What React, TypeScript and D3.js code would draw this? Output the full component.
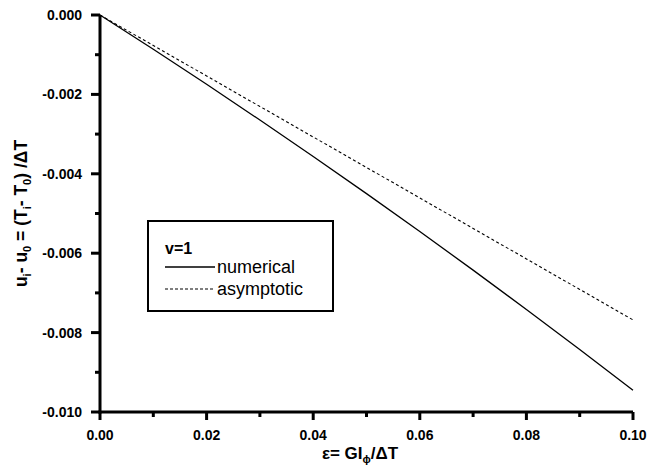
import React from "react";
import * as d3 from "d3";

const epsValues = [0, 0.01, 0.02, 0.03, 0.04, 0.05, 0.06, 0.07, 0.08, 0.09, 0.1];
const numerical = [0, -0.000864, -0.001746, -0.002646, -0.003564, -0.0045, -0.005454, -0.006426, -0.007416, -0.008424, -0.00945];
const asymptotic = [0, -0.000768, -0.001536, -0.002304, -0.003072, -0.00384, -0.004608, -0.005376, -0.006144, -0.006912, -0.00768];
const xTicks = [0, 0.02, 0.04, 0.06, 0.08, 0.1];
const xMinor = [0.01, 0.03, 0.05, 0.07, 0.09];
const yTicks = [0, -0.002, -0.004, -0.006, -0.008, -0.01];
const yMinor = [-0.001, -0.003, -0.005, -0.007, -0.009];

export default function App() {
  const W = 647, H = 467;
  const x = d3.scaleLinear().domain([0, 0.1]).range([100, 633]);
  const y = d3.scaleLinear().domain([0, -0.01]).range([15, 412]);
  const line = d3.line<[number, number]>().x(d => x(d[0])).y(d => y(d[1]));
  const numPts = epsValues.map((e, i) => [e, numerical[i]] as [number, number]);
  const asyPts = epsValues.map((e, i) => [e, asymptotic[i]] as [number, number]);
  const font = "'Liberation Sans', Arial, sans-serif";
  return (
    <svg width={W} height={H} style={{ position: "absolute", left: 0, top: 0, background: "#fff" }} fontFamily={font}>
      <rect width={W} height={H} fill="#fff" />
      <path d={line(asyPts) || ""} fill="none" stroke="#000" strokeWidth={1.1} strokeDasharray="3,2.5" />
      <path d={line(numPts) || ""} fill="none" stroke="#000" strokeWidth={1.3} />
      {/* axes */}
      <line x1={x(0)} x2={x(0)} y1={y(0)} y2={y(-0.01) + 1.5} stroke="#000" strokeWidth={3} />
      <line x1={x(0) - 1.5} x2={x(0.1)} y1={y(-0.01)} y2={y(-0.01)} stroke="#000" strokeWidth={3} />
      {yTicks.map(t => (
        <g key={"y" + t}>
          <line x1={x(0) - 9} x2={x(0)} y1={y(t)} y2={y(t)} stroke="#000" strokeWidth={3} />
          <text x={82} y={y(t) + 5} textAnchor="end" fontSize={14} fontWeight="bold">{t === 0 ? "0.000" : t.toFixed(3)}</text>
        </g>
      ))}
      {yMinor.map(t => (
        <line key={"ym" + t} x1={x(0) - 5} x2={x(0)} y1={y(t)} y2={y(t)} stroke="#000" strokeWidth={3} />
      ))}
      {xTicks.map(t => (
        <g key={"x" + t}>
          <line x1={x(t)} x2={x(t)} y1={y(-0.01)} y2={y(-0.01) + 8} stroke="#000" strokeWidth={3} />
          <text x={x(t)} y={y(-0.01) + 28} textAnchor="middle" fontSize={14} fontWeight="bold">{t.toFixed(2)}</text>
        </g>
      ))}
      {xMinor.map(t => (
        <line key={"xm" + t} x1={x(t)} x2={x(t)} y1={y(-0.01)} y2={y(-0.01) + 5} stroke="#000" strokeWidth={3} />
      ))}
      {/* axis labels */}
      <text x={360} y={459} textAnchor="middle" fontSize={17} fontWeight="bold">
        ε= GI<tspan fontSize={11} dy={4}>ϕ</tspan><tspan dy={-4}>/ΔT</tspan>
      </text>
      <text transform={`translate(27,${(y(0) + y(-0.01)) / 2}) rotate(-90)`} textAnchor="middle" fontSize={17.5} fontWeight="bold">
        u<tspan fontSize={11} dy={4}>i</tspan><tspan dy={-4}>- u</tspan><tspan fontSize={11} dy={4}>0</tspan><tspan dy={-4}> = (T</tspan><tspan fontSize={11} dy={4}>i</tspan><tspan dy={-4}>- T</tspan><tspan fontSize={11} dy={4}>0</tspan><tspan dy={-4}>) /ΔT</tspan>
      </text>
      {/* legend */}
      <rect x={148} y={221} width={185} height={90} fill="#fff" stroke="#000" strokeWidth={2} />
      <text x={165} y={254} fontSize={16} fontWeight="bold">v=1</text>
      <line x1={165} x2={215} y1={267} y2={267} stroke="#000" strokeWidth={1.3} />
      <text x={217} y={273} fontSize={18}>numerical</text>
      <line x1={165} x2={215} y1={289} y2={289} stroke="#000" strokeWidth={1.1} strokeDasharray="3,2" />
      <text x={217} y={295} fontSize={18}>asymptotic</text>
    </svg>
  );
}
